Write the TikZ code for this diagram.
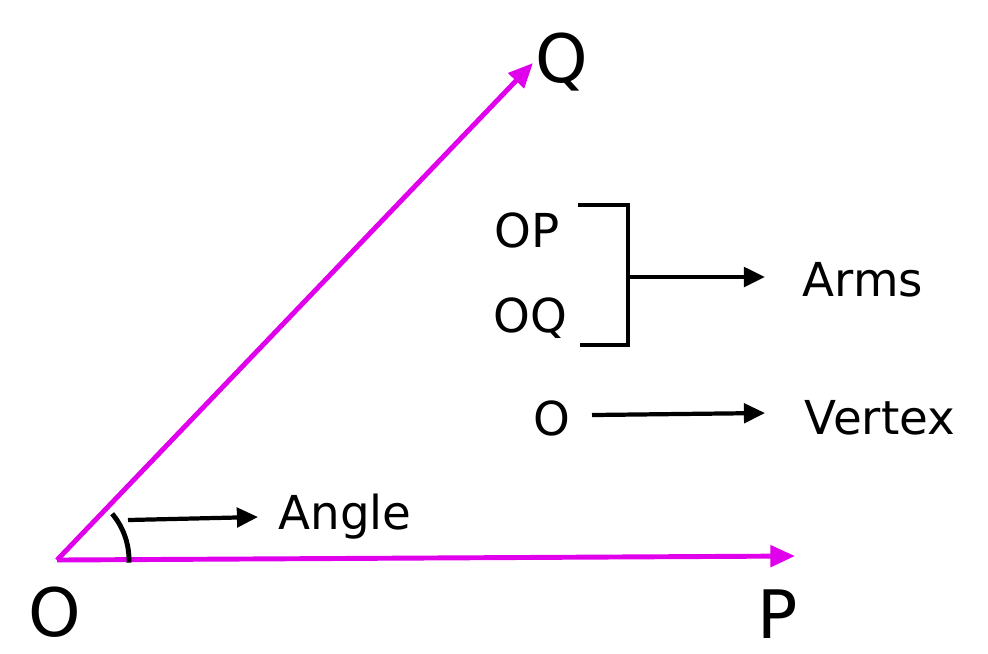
\documentclass[tikz,border=0pt]{standalone}
\usepackage{fontspec}
\setmainfont{DejaVu Sans}
\usetikzlibrary{arrows.meta}
\definecolor{mag}{HTML}{E000EC}
\begin{document}
\begin{tikzpicture}[x=0.01cm,y=-0.01cm,
  arm/.style={mag,line width=1.4pt,-{Triangle[length=7pt,width=6pt]}},
  blk/.style={black,line width=1.2pt,-{Triangle[length=6pt,width=5.5pt]}},
  big/.style={font=\fontsize{19}{22}\selectfont,inner sep=0},
  lab/.style={font=\fontsize{13.3}{16}\selectfont,inner sep=0}]
\useasboundingbox (0,0) rectangle (988,653);
\coordinate (O) at (57,560);
\coordinate (Pt) at (795,556);
\coordinate (Qt) at (533,63);
\draw[arm] (O) -- (Pt);
\draw[arm] (O) -- (Qt);
\node[big] (lO) at (55,612) {O};
\node[big] (lQ) at (562,62) {Q};
\node[big] (lP) at (778,614) {P};
\draw[black,line width=1.4pt] (O) ++(2:72) arc[start angle=2,end angle=-40,radius=72];
\coordinate (a1) at (128,520);
\node[lab] (ang) at (345,517) {Angle};
\draw[blk] (a1) -- (258,517);
\node[lab] (op) at (527,230) {OP};
\node[lab] (oq) at (530,318) {OQ};
\draw[line width=1.4pt] (578,205) -- (628,205) -- (628,345) -- (580,345);
\coordinate (b1) at (628,277);
\node[lab] (arms) at (863,280) {Arms};
\draw[blk] (b1) -- (765,277);
\node[lab] (o2) at (552,418) {O};
\node[lab] (vx) at (880,418) {Vertex};
\draw[blk] (592,415) -- (765,413);
\end{tikzpicture}
\end{document}
